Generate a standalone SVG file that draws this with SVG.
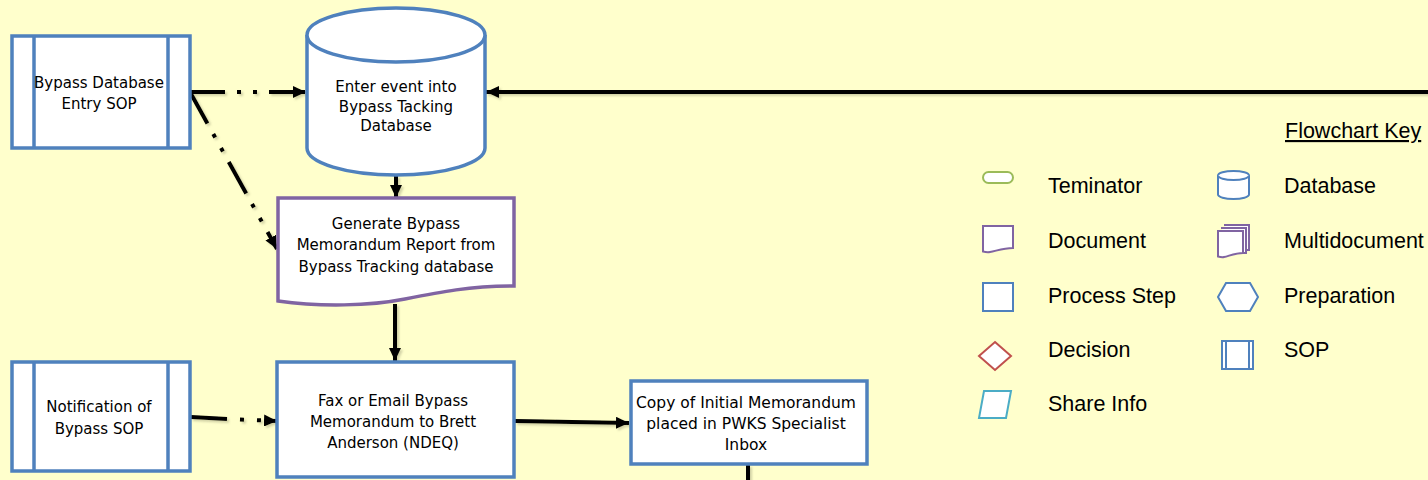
<svg xmlns="http://www.w3.org/2000/svg" width="1428" height="480" viewBox="0 0 1428 480">
  <style>
    .bg { fill: #FFFFCC; }
    .proc { fill: #FFFFFF; stroke: #4F81BD; stroke-width: 3.5; }
    .doc { fill: #FFFFFF; stroke: #8064A2; stroke-width: 3.5; }
    .lbl { font-family: "DejaVu Sans", Verdana, sans-serif; font-size: 15px; fill: #000; text-anchor: middle; }
    .key { font-family: "Liberation Sans", Arial, sans-serif; font-size: 21.5px; fill: #000; }
    .conn { fill: none; stroke: #000; stroke-width: 4; }
    .dashdot { stroke-dasharray: 36 12 4 12 4 12; }
    .k-term { fill: #FFFFFF; stroke: #9BBB59; stroke-width: 2; }
    .k-doc { fill: #FFFFFF; stroke: #8064A2; stroke-width: 2; }
    .k-blue { fill: #FFFFFF; stroke: #4F81BD; stroke-width: 2; }
    .k-dec { fill: #FFFFFF; stroke: #C0504D; stroke-width: 2; }
    .k-share { fill: #FFFFFF; stroke: #4BACC6; stroke-width: 2; }
  </style>
  <defs>
    <marker id="arrow" markerUnits="userSpaceOnUse" markerWidth="14" markerHeight="12" refX="13" refY="6" orient="auto">
      <path d="M0,0 L13,6 L0,12 Z" fill="#000"/>
    </marker>
    <filter id="shadow" x="-10%" y="-10%" width="120%" height="120%">
      <feDropShadow dx="2" dy="2" stdDeviation="1" flood-color="#7F7F60" flood-opacity="0.35"/>
    </filter>
  </defs>

  <rect class="bg" x="0" y="0" width="1428" height="480"/>

  <!-- connectors -->
  <g id="connectors" filter="url(#shadow)">
    <line class="conn" x1="1428" y1="92" x2="486" y2="92" marker-end="url(#arrow)"/>
    <line class="conn dashdot" x1="189" y1="92" x2="306" y2="92" marker-end="url(#arrow)"/>
    <line class="conn dashdot" x1="190" y1="92" x2="277" y2="249" marker-end="url(#arrow)"/>
    <line class="conn" x1="396" y1="176" x2="396" y2="198" marker-end="url(#arrow)"/>
    <line class="conn" x1="395" y1="304" x2="395" y2="361" marker-end="url(#arrow)"/>
    <line class="conn" x1="191" y1="417" x2="227" y2="419"/>
    <line class="conn" x1="227" y1="419" x2="277" y2="421" stroke-dasharray="0 13 4 13 4 8 30" marker-end="url(#arrow)"/>
    <line class="conn" x1="515" y1="421" x2="629" y2="423" marker-end="url(#arrow)"/>
    <line class="conn" x1="748" y1="465" x2="748" y2="480"/>
  </g>

  <!-- Bypass Database Entry SOP -->
  <g id="sop-entry">
    <rect class="proc" x="12" y="36" width="178" height="112"/>
    <line class="proc" x1="34" y1="36" x2="34" y2="148"/>
    <line class="proc" x1="168" y1="36" x2="168" y2="148"/>
    <text class="lbl" x="99" y="87.5">Bypass Database</text>
    <text class="lbl" x="99" y="108.5">Entry SOP</text>
  </g>

  <!-- Enter event database -->
  <g id="db-enter">
    <path class="proc" d="M307,35 A89,27 0 0 1 485,35 V148 A89,27 0 0 1 307,148 Z"/>
    <path class="proc" fill="none" d="M307,35 A89,27 0 0 0 485,35"/>
    <text class="lbl" x="396" y="92">Enter event into</text>
    <text class="lbl" x="396" y="111.5">Bypass Tacking</text>
    <text class="lbl" x="396" y="131">Database</text>
  </g>

  <!-- Generate memorandum report document -->
  <g id="doc-generate">
    <path class="doc" d="M278,198 H514 V286 C470,286 440,292 405,299 C370,306 320,307 278,301 Z"/>
    <text class="lbl" x="396" y="228.5">Generate Bypass</text>
    <text class="lbl" x="396" y="250">Memorandum Report from</text>
    <text class="lbl" x="396" y="271.5">Bypass Tracking database</text>
  </g>

  <!-- Notification of Bypass SOP -->
  <g id="sop-notify">
    <rect class="proc" x="12" y="362" width="178" height="109"/>
    <line class="proc" x1="34" y1="362" x2="34" y2="471"/>
    <line class="proc" x1="168" y1="362" x2="168" y2="471"/>
    <text class="lbl" x="99" y="411.5">Notification of</text>
    <text class="lbl" x="99" y="433.5">Bypass SOP</text>
  </g>

  <!-- Fax or Email process -->
  <g id="proc-fax">
    <rect class="proc" x="277" y="362" width="237" height="115"/>
    <text class="lbl" x="393" y="405.5">Fax or Email Bypass</text>
    <text class="lbl" x="393" y="426.5">Memorandum to Brett</text>
    <text class="lbl" x="393" y="447.5">Anderson (NDEQ)</text>
  </g>

  <!-- Copy of memorandum process -->
  <g id="proc-copy">
    <rect class="proc" x="631" y="381" width="236" height="83"/>
    <text class="lbl" x="746" y="407.5" style="font-size:15.5px">Copy of Initial Memorandum</text>
    <text class="lbl" x="746" y="428.5" style="font-size:15.5px">placed in PWKS Specialist</text>
    <text class="lbl" x="746" y="450" style="font-size:15.5px">Inbox</text>
  </g>

  <!-- Flowchart key -->
  <g id="key">
    <text class="key" x="1285" y="138" text-decoration="underline">Flowchart Key</text>

    <rect class="k-term" x="983" y="172" width="30" height="11" rx="5.5"/>
    <text class="key" x="1048" y="193">Teminator</text>

    <path class="k-blue" d="M1218,175.5 A15.5,4.5 0 0 1 1249,175.5 V194.5 A15.5,4.5 0 0 1 1218,194.5 Z"/>
    <path class="k-blue" fill="none" d="M1218,175.5 A15.5,4.5 0 0 0 1249,175.5"/>
    <text class="key" x="1284" y="193">Database</text>

    <path class="k-doc" d="M983,226 H1013 V248 C1003,248 996,251 990,252 C987,252.5 985,252 983,251.5 Z"/>
    <text class="key" x="1048" y="248">Document</text>

    <path class="k-doc" d="M1224,225 H1249 V250 H1246"/>
    <path class="k-doc" d="M1221,228 H1246 V253 H1243"/>
    <path class="k-doc" d="M1218,231 H1243 V253 C1235,253 1229,256 1224,257 C1222,257.5 1220,257 1218,256.5 Z"/>
    <text class="key" x="1284" y="248">Multidocument</text>

    <rect class="k-blue" x="983" y="283" width="30" height="28"/>
    <text class="key" x="1048" y="303">Process Step</text>

    <polygon class="k-blue" points="1218,297 1226,283 1250,283 1258,297 1250,311 1226,311"/>
    <text class="key" x="1284" y="303">Preparation</text>

    <polygon class="k-dec" points="995,342 1011,356 995,370 979,356"/>
    <text class="key" x="1048" y="357">Decision</text>

    <rect class="k-blue" x="1222" y="341" width="31" height="28"/>
    <line class="k-blue" x1="1226" y1="341" x2="1226" y2="369"/>
    <line class="k-blue" x1="1249" y1="341" x2="1249" y2="369"/>
    <text class="key" x="1284" y="357">SOP</text>

    <polygon class="k-share" points="984,391 1011,391 1006,418 979,418"/>
    <text class="key" x="1048" y="411">Share Info</text>
  </g>
</svg>
